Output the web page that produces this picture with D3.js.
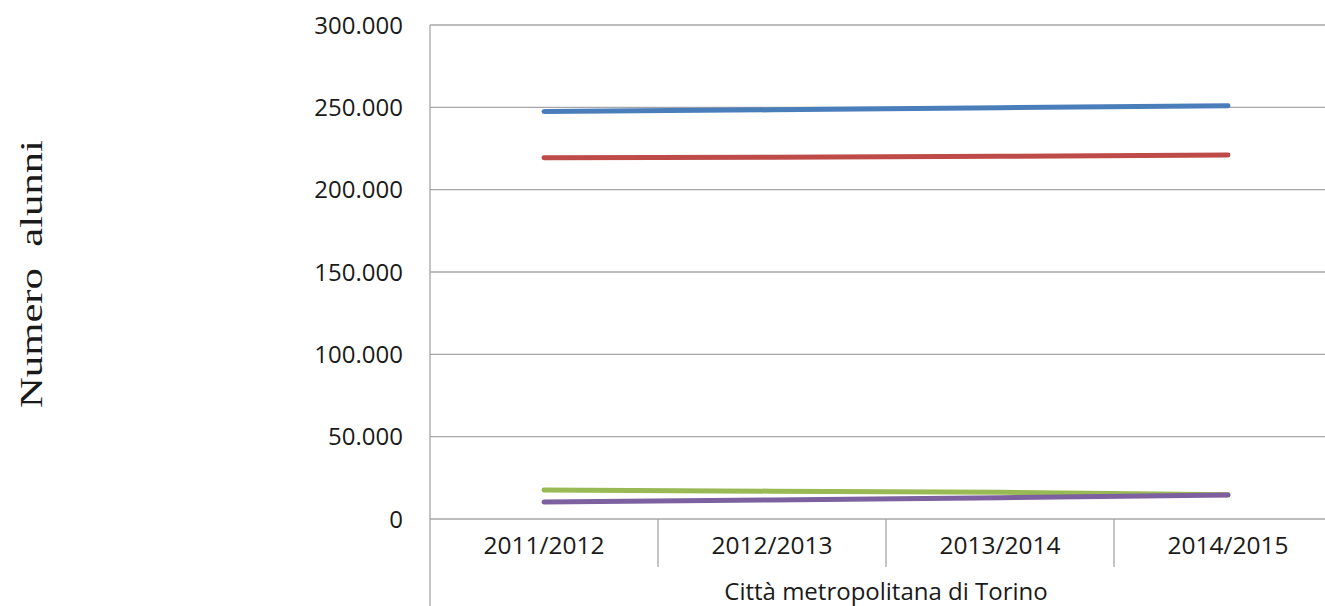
<!DOCTYPE html>
<html>
<head>
<meta charset="utf-8">
<script src="https://cdn.jsdelivr.net/npm/d3@7"></script>
<style>
  body { margin: 0; background: #fff; overflow: hidden; }
</style>
</head>
<body>
<div id="chart"></div>
<script>
// data
var years = ["2011/2012", "2012/2013", "2013/2014", "2014/2015"];
var blueVals = [247500, 248500, 249800, 251000];
var redVals = [219400, 219700, 220300, 221000];
var greenVals = [17600, 16900, 16200, 14700];
var purpleVals = [10300, 11600, 12900, 14500];
var yTicks = [0, 50000, 100000, 150000, 200000, 250000, 300000];
var seriesColors = ["#4a7ebb", "#be4b48", "#98b954", "#7d60a0"];

var width = 1325, height = 606;
var plotLeft = 430, plotTop = 25, plotBottom = 519, plotRight = 1342;

var svg = d3.select("#chart").append("svg")
  .attr("width", width)
  .attr("height", height);

var x = d3.scaleBand().domain(years).range([plotLeft, plotRight]);
var y = d3.scaleLinear().domain([0, 300000]).range([plotBottom, plotTop]);

var fmt = function(d) {
  return d === 0 ? "0" : d3.format(",")(d).replace(/,/g, ".");
};

// gridlines
svg.append("g")
  .selectAll("line")
  .data(yTicks)
  .enter().append("line")
  .attr("x1", plotLeft).attr("x2", plotRight)
  .attr("y1", function(d) { return y(d); })
  .attr("y2", function(d) { return y(d); })
  .attr("stroke", "#a6a6a6")
  .attr("stroke-width", 1.3);

// y tick labels
svg.append("g")
  .selectAll("text")
  .data(yTicks)
  .enter().append("text")
  .attr("x", 403)
  .attr("y", function(d) { return y(d); })
  .attr("dy", "0.36em")
  .attr("text-anchor", "end")
  .attr("font-family", "Open Sans, sans-serif")
  .attr("font-size", 24)
  .attr("fill", "#1a1a1a")
  .text(fmt);

// left axis line, runs down to the bottom
svg.append("line")
  .attr("x1", plotLeft).attr("x2", plotLeft)
  .attr("y1", plotTop).attr("y2", height)
  .attr("stroke", "#a6a6a6")
  .attr("stroke-width", 1.3);

// category dividers
svg.append("g")
  .selectAll("line")
  .data(years.slice(1))
  .enter().append("line")
  .attr("x1", function(d) { return x(d); })
  .attr("x2", function(d) { return x(d); })
  .attr("y1", plotBottom).attr("y2", 567)
  .attr("stroke", "#a6a6a6")
  .attr("stroke-width", 1.3);

// category labels
svg.append("g")
  .selectAll("text")
  .data(years)
  .enter().append("text")
  .attr("x", function(d) { return x(d) + x.bandwidth() / 2; })
  .attr("y", 545)
  .attr("dy", "0.36em")
  .attr("text-anchor", "middle")
  .attr("font-family", "Open Sans, sans-serif")
  .attr("font-size", 24.5)
  .attr("fill", "#1a1a1a")
  .text(function(d) { return d; });

svg.append("text")
  .attr("x", (plotLeft + plotRight) / 2)
  .attr("y", 591)
  .attr("dy", "0.36em")
  .attr("text-anchor", "middle")
  .attr("font-family", "Open Sans, sans-serif")
  .attr("font-size", 24)
  .attr("fill", "#1a1a1a")
  .text("Città metropolitana di Torino");

// y axis title (double space kept, as in the original)
svg.append("text")
  .attr("transform", "translate(42,274)rotate(-90)")
  .attr("text-anchor", "middle")
  .attr("font-family", "Liberation Serif, Times New Roman, serif")
  .attr("font-size", 31)
  .attr("textLength", 268)
  .attr("lengthAdjust", "spacingAndGlyphs")
  .style("white-space", "pre")
  .attr("fill", "#1a1a1a")
  .text("Numero  alunni");

// lines
var line = d3.line()
  .x(function(d, i) { return x(years[i]) + x.bandwidth() / 2; })
  .y(function(d) { return y(d); });

var allSeries = [blueVals, redVals, greenVals, purpleVals];
svg.append("g")
  .selectAll("path")
  .data(allSeries)
  .enter().append("path")
  .attr("d", line)
  .attr("fill", "none")
  .attr("stroke", function(d, i) { return seriesColors[i]; })
  .attr("stroke-width", 5)
  .attr("stroke-linecap", "round")
  .attr("stroke-linejoin", "round");
</script>
</body>
</html>
